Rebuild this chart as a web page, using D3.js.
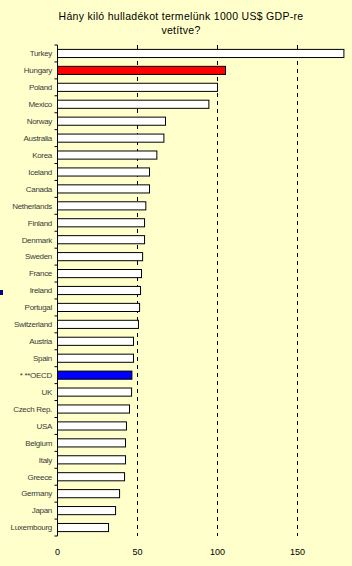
<!DOCTYPE html>
<html><head><meta charset="utf-8">
<script src="https://cdn.jsdelivr.net/npm/d3@7"></script>
<style>body{margin:0;background:#FFFFCC;}svg{display:block;}</style>
</head><body><div id="chart"></div>
<script>
const categories = ["Turkey","Hungary","Poland","Mexico","Norway","Australia","Korea","Iceland","Canada","Netherlands","Finland","Denmark","Sweden","France","Ireland","Portugal","Switzerland","Austria","Spain","* **OECD","UK","Czech Rep.","USA","Belgium","Italy","Greece","Germany","Japan","Luxembourg"];
const values = [179,105,100,94.6,67.5,66.5,62.1,57.5,57.5,55.2,54.4,54.4,53.2,52.5,51.9,51.3,50.6,47.5,47.5,46.5,46.3,45,43.1,42.5,42.5,41.9,38.8,36.3,31.9];
const highlights = {"Hungary":"#FF0000","* **OECD":"#0000FF"};
const tickValues = [0,50,100,150];
const titleLines = ["Hány kiló hulladékot termelünk 1000 US$ GDP-re","vetítve?"];

(function(){
const W=352,H=566;
const svg=d3.select("#chart").append("svg").attr("width",W).attr("height",H);
svg.append("rect").attr("width",W).attr("height",H).attr("fill","#FFFFCC");
const pLeft=57.5, pTop=45, pBottom=536;
const x=d3.scaleLinear().domain([0,180]).range([pLeft,pLeft+288]);
const y=d3.scaleBand().domain(categories).range([pTop,pBottom]).paddingInner(0.52).paddingOuter(0.26);

svg.selectAll("text.title").data(titleLines).join("text")
  .attr("x",181).attr("y",(d,i)=>20+i*14).attr("text-anchor","middle")
  .attr("font-family","Arial, Liberation Sans, sans-serif").attr("font-size",10.5)
  .attr("letter-spacing","0.3").attr("fill","#000").text(d=>d);

svg.selectAll("line.grid").data(tickValues.filter(d=>d>0)).join("line")
  .attr("x1",d=>x(d)).attr("x2",d=>x(d)).attr("y1",pTop).attr("y2",pBottom)
  .attr("stroke","#000").attr("stroke-width",1).attr("stroke-dasharray","4,4");

svg.selectAll("rect.bar").data(categories).join("rect")
  .attr("x",x(0)).attr("y",d=>y(d)).attr("width",(d,i)=>x(values[i])-x(0)).attr("height",y.bandwidth())
  .attr("fill",d=>highlights[d]||"#FFFFFF").attr("stroke","#000").attr("stroke-width",1);

svg.append("line").attr("x1",x(0)).attr("x2",x(0)).attr("y1",pTop).attr("y2",pBottom).attr("stroke","#000");
const step=(pBottom-pTop)/categories.length;
svg.selectAll("line.ytick").data(d3.range(categories.length+1)).join("line")
  .attr("x1",x(0)-3).attr("x2",x(0)).attr("y1",d=>pTop+d*step).attr("y2",d=>pTop+d*step).attr("stroke","#000");

svg.selectAll("text.cat").data(categories).join("text")
  .attr("x",52).attr("y",d=>y(d)+y.bandwidth()/2).attr("dy","0.35em").attr("text-anchor","end")
  .attr("font-family","Arial, Liberation Sans, sans-serif").attr("font-size",8).attr("fill","#3a3a3a")
  .attr("letter-spacing","-0.3").text(d=>d);

svg.selectAll("text.xt").data(tickValues).join("text")
  .attr("x",d=>x(d)).attr("y",555).attr("text-anchor","middle")
  .attr("font-family","Arial, Liberation Sans, sans-serif").attr("font-size",9).attr("fill","#000").text(d=>d);

svg.append("rect").attr("x",0).attr("y",290).attr("width",3).attr("height",5).attr("fill","#000080");
})();
</script></body></html>
